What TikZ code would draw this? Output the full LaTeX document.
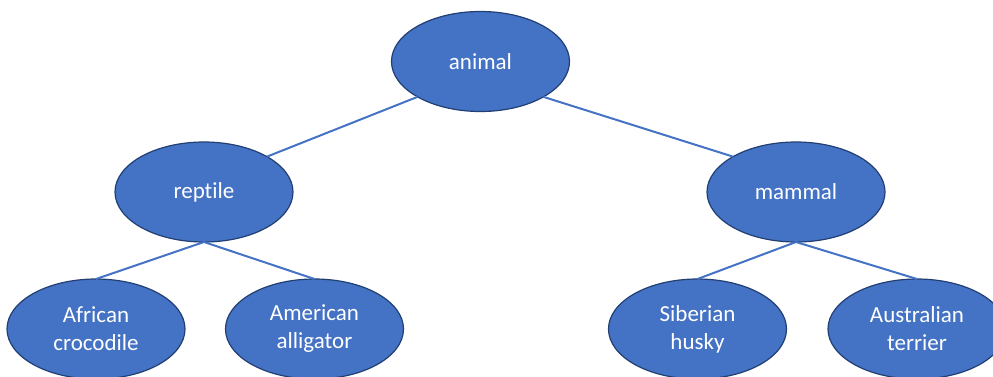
\documentclass[tikz,border=0pt]{standalone}
\usepackage{fontspec}
\setmainfont{Carlito}[Ligatures=NoCommon]
\usetikzlibrary{shapes.geometric}
\definecolor{nodefill}{HTML}{4472C4}
\definecolor{nodeline}{HTML}{223F73}
\definecolor{linkcol}{HTML}{4472C4}
\tikzset{
  concept/.style={ellipse, draw=nodeline, line width=1.2pt, fill=nodefill,
    minimum width=178pt, minimum height=100pt, inner sep=0pt, outer sep=0pt,
    text=white, align=center, font=\fontsize{23}{28}\selectfont},
  link/.style={draw=linkcol, line width=2pt}
}
\begin{document}
\begin{tikzpicture}[x=1pt,y=-1pt]
  \useasboundingbox (0,0) rectangle (993,376);
  \clip (0,0) rectangle (993,376);
  % tree levels
  \node[concept] (animal)  at (480.5,61.5) {animal};
  \node[concept] (reptile) at (204,192)    {reptile};
  \node[concept] (mammal)  at (796,192)    {mammal};
  \node[concept] (croc)    at (96,329)     {African\\crocodile};
  \node[concept] (gator)   at (314.5,329)  {American\\alligator};
  \node[concept] (husky)   at (697.5,329)  {Siberian\\husky};
  \node[concept] (terrier) at (917,329)    {Australian\\terrier};
  % connectors
  \draw[link] (animal.south west) -- (reptile.north east);
  \draw[link] (animal.south east) -- (mammal.north west);
  \draw[link] (reptile.south) -- (croc.north);
  \draw[link] (reptile.south) -- (gator.north);
  \draw[link] (mammal.south) -- (husky.north);
  \draw[link] (mammal.south) -- (terrier.north);
\end{tikzpicture}
\end{document}
